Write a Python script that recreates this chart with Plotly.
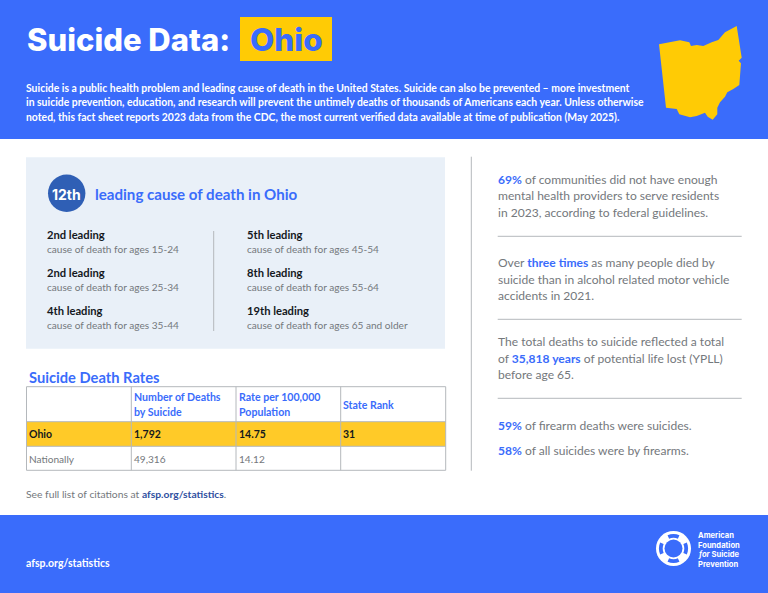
import math

import plotly.graph_objects as go

BLUE = "#3a6cfb"
YELLOW = "#ffcb05"
ROW_YELLOW = "#ffca28"
PANEL = "#e9f0f8"
GREY = "#74787c"
DARK = "#14181d"
RULE = "#b4b8bc"
BODY = "Lato"

W, H = 768, 593

# text content
intro_lines = [
    "Suicide is a public health problem and leading cause of death in the United States. Suicide can also be prevented \u2013 more investment",
    "in suicide prevention, education, and research will prevent the untimely deaths of thousands of Americans each year. Unless otherwise",
    "noted, this fact sheet reports 2023 data from the CDC, the most current verified data available at time of publication (May 2025).",
]
rank_left = ["2nd leading", "2nd leading", "4th leading"]
ages_left = ["15-24", "25-34", "35-44"]
rank_right = ["5th leading", "8th leading", "19th leading"]
ages_right = ["45-54", "55-64", "65 and older"]

# table
header_top = ["", "Number of Deaths", "Rate per 100,000", ""]
header_bottom = ["", "by Suicide", "Population", ""]
header_single = ["", "", "", "State Rank"]
table_places = ["Ohio", "Nationally"]
table_deaths = ["1,792", "49,316"]
table_rates = ["14.75", "14.12"]
table_ranks = ["31", ""]
col_edges = [26.5, 131.3, 236, 340.7, 445.7]
row_edges = [386.7, 421.7, 446.3, 470.3]

# right column, each line is (y, text)
facts = [
    (179, "<b><span style='color:%s'>69%%</span></b> of communities did not have enough" % BLUE),
    (195.5, "mental health providers to serve residents"),
    (212, "in 2023, according to federal guidelines."),
    (262.7, "Over <b><span style='color:%s'>three times</span></b> as many people died by" % BLUE),
    (279, "suicide than in alcohol related motor vehicle"),
    (295, "accidents in 2021."),
    (341.5, "The total deaths to suicide reflected a total"),
    (358, "of <b><span style='color:%s'>35,818 years</span></b> of potential life lost (YPLL)" % BLUE),
    (374.3, "before age 65."),
    (425, "<b><span style='color:%s'>59%%</span></b> of firearm deaths were suicides." % BLUE),
    (450, "<b><span style='color:%s'>58%%</span></b> of all suicides were by firearms." % BLUE),
]
fact_rules = [236.3, 319.3, 398.3]

ohio_outline = [
    (659, 44.3), (680, 40.3), (689.3, 42.3), (691, 46), (696.7, 45), (703.3, 46), (711.7, 42.3),
    (718.3, 40), (725, 32.3), (736.7, 26), (741.7, 57.7), (738.7, 60.7), (741, 63.3), (739.3, 85),
    (733.3, 89), (727.3, 92.3), (725, 96.7), (720, 102.3), (717.3, 107.7), (717.3, 114.3),
    (712.7, 119.7), (707.7, 116.7), (705, 112.7), (696.7, 116), (690, 117.3), (679.3, 114.3),
    (676.7, 109), (666, 107.7),
]


def text(x, y, s, size, color, font=BODY, anchor="left", weight=None):
    f = dict(family=font, size=size, color=color)
    if weight:
        f["weight"] = weight
    # annotation boxes carry 2px of padding, take it back for left aligned text
    return dict(
        x=x, y=y, xref="x", yref="y", text=s, showarrow=False,
        xanchor=anchor, yanchor="middle", align=anchor, font=f,
        xshift=-2 if anchor == "left" else 0,
    )


def rect(x0, y0, x1, y1, color):
    return dict(type="rect", xref="x", yref="y", x0=x0, y0=y0, x1=x1, y1=y1,
                fillcolor=color, line_width=0, layer="below")


def hline(x0, x1, y, color=RULE):
    return dict(type="line", xref="x", yref="y", x0=x0, x1=x1, y0=y, y1=y,
                line=dict(color=color, width=1))


def vline(x, y0, y1, color=RULE):
    return dict(type="line", xref="x", yref="y", x0=x, x1=x, y0=y0, y1=y1,
                line=dict(color=color, width=1))


def circle(cx, cy, r, color, line=None):
    c = dict(type="circle", xref="x", yref="y", x0=cx - r, x1=cx + r, y0=cy - r, y1=cy + r,
             fillcolor=color, line_width=0)
    if line:
        c["line"] = dict(color=line, width=1.5)
    return c


def buoy_patch(cx, cy, angle):
    # one blue window of the lifebuoy, between the rings
    pts = []
    for r, sweep in [(14.6, 1), (10.8, -1)]:
        for k in range(5):
            a = math.radians(angle + sweep * (-24 + 12 * k))
            pts.append((cx + r * math.cos(a), cy + r * math.sin(a)))
    return dict(type="path", xref="x", yref="y", fillcolor=BLUE, line_width=0,
                path="M " + " L ".join(f"{x:.2f},{y:.2f}" for x, y in pts) + " Z")


shapes = [
    rect(0, 0, W, 139, BLUE),
    rect(0, 515, W, H, BLUE),
    rect(240, 17, 332, 61, YELLOW),
    rect(26, 157.3, 445, 348.7, PANEL),
    rect(col_edges[0], row_edges[1], col_edges[-1], row_edges[2], ROW_YELLOW),
    vline(213.7, 231, 331),
    vline(471.3, 156.7, 470.7),
    circle(66.7, 193.3, 18.7, "#2f5fb5", line="#1f4fa5"),
    dict(type="path", xref="x", yref="y", fillcolor=YELLOW, line_width=0,
         path="M " + " L ".join(f"{x},{y}" for x, y in ohio_outline) + " Z"),
    circle(673.5, 548.5, 17.5, "white"),
    circle(673.5, 548.5, 9, BLUE),
]
for angle in [0, 90, 180, 270]:
    shapes.append(buoy_patch(673.5, 548.5, angle))
for y in fact_rules:
    shapes.append(hline(497.7, 741.7, y))
for y in row_edges:
    shapes.append(hline(col_edges[0], col_edges[-1], y))
for x in col_edges:
    shapes.append(vline(x, row_edges[0], row_edges[-1]))

annotations = [
    text(26.5, 39, "Suicide Data:", 31, "white", font="Inter", weight=800),
    text(286, 39, "Ohio", 31.5, BLUE, font="Inter", anchor="center", weight=800),
    text(95.3, 194, "<b>leading cause of death in Ohio</b>", 15.1, BLUE),
    text(66.7, 194, "<b>12th</b>", 14, "white", font="Inter", anchor="center"),
    text(29, 377, "<b>Suicide Death Rates</b>", 14.7, BLUE),
    text(26, 493.5, "See full list of citations at <b><span style='color:#2f4f9f'>afsp.org/statistics</span></b>.", 10.3, GREY),
    text(26, 563, "<b>afsp.org/statistics</b>", 10.5, "white"),
]
for y, line in zip([87.5, 102, 117], intro_lines):
    annotations.append(text(26, y, f"<b>{line}</b>", 10.42, "white"))
for x, ranks, ages in [(47, rank_left, ages_left), (247.3, rank_right, ages_right)]:
    for i in range(3):
        annotations.append(text(x, 234.7 + i * 37.8, f"<b>{ranks[i]}</b>", 11.2, DARK))
        annotations.append(text(x, 249.3 + i * 37.8, f"cause of death for ages {ages[i]}", 10.1, GREY))
for y, line in facts:
    annotations.append(text(497.7, y, line, 12.05, GREY))
for y, line in zip([535.7, 545, 554.3, 564], ["American", "Foundation", "<i>for</i> Suicide", "Prevention"]):
    annotations.append(text(697.7, y, f"<b>{line}</b>", 7.6, "white", font="Inter"))

# table text
for i, x in enumerate(col_edges[:-1]):
    tx = x + 2.6
    if header_top[i]:
        annotations.append(text(tx, 397.3, f"<b>{header_top[i]}</b>", 10.6, BLUE))
        annotations.append(text(tx, 412, f"<b>{header_bottom[i]}</b>", 10.6, BLUE))
    if header_single[i]:
        annotations.append(text(tx, 404.7, f"<b>{header_single[i]}</b>", 10.6, BLUE))
for x, col in zip(col_edges[:-1], [table_places, table_deaths, table_rates, table_ranks]):
    tx = x + 2.6
    if col[0]:
        annotations.append(text(tx, 434, f"<b>{col[0]}</b>", 10.5, DARK))
    if col[1]:
        annotations.append(text(tx, 459, col[1], 10.1, GREY))

fig = go.Figure()
fig.update_layout(
    width=W, height=H,
    margin=dict(l=0, r=0, t=0, b=0),
    paper_bgcolor="white", plot_bgcolor="white",
    showlegend=False,
    xaxis=dict(range=[0, W], visible=False, fixedrange=True),
    yaxis=dict(range=[H, 0], visible=False, fixedrange=True),
    shapes=shapes,
    annotations=annotations,
)
fig.write_html(
    "out.html",
    config=dict(displayModeBar=False),
    post_script="document.body.style.margin = '0';",
)
